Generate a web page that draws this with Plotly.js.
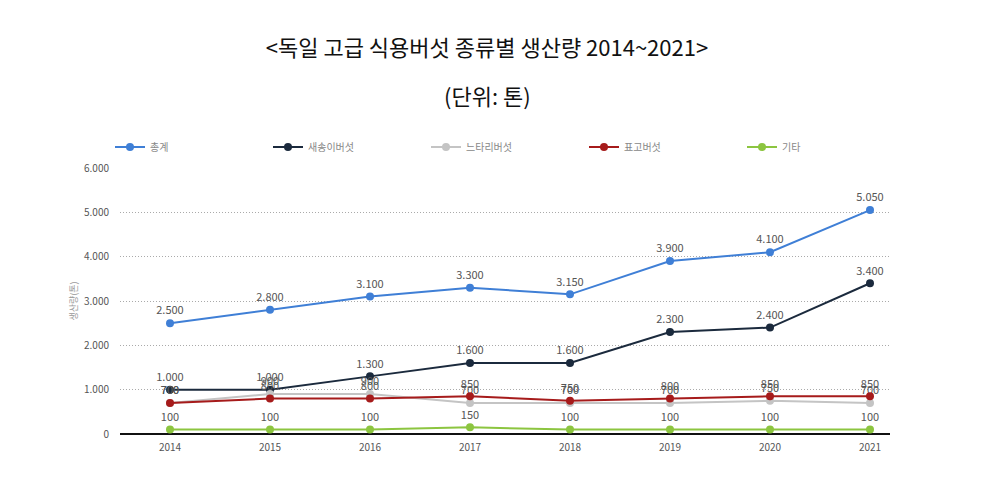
<!DOCTYPE html>
<html><head><meta charset="utf-8">
<script src="https://cdn.plot.ly/plotly-3.0.1.min.js"></script>
<style>body{margin:0;background:#fff}#c{width:993px;height:504px}</style>
</head><body><div id="c"></div>
<script>
const years = [2014, 2015, 2016, 2017, 2018, 2019, 2020, 2021];
const seriesNames = ['총계', '새송이버섯', '느타리버섯', '표고버섯', '기타'];
const total = [2500, 2800, 3100, 3300, 3150, 3900, 4100, 5050];
const kingOyster = [1000, 1000, 1300, 1600, 1600, 2300, 2400, 3400];
const oyster = [700, 900, 900, 700, 700, 700, 750, 700];
const shiitake = [700, 800, 800, 850, 750, 800, 850, 850];
const others = [100, 100, 100, 150, 100, 100, 100, 100];
const yTicks = [0, 1000, 2000, 3000, 4000, 5000, 6000];

const colors = ['#3f7fd6', '#1b2a3d', '#c4c4c4', '#a61b1b', '#8cc540'];
const data = [total, kingOyster, oyster, shiitake, others];
const font = 'Noto Sans CJK KR, Noto Sans, sans-serif';

const traces = data.map((vals, i) => ({
  type: 'scatter', mode: 'lines+markers+text',
  x: years, y: vals, name: seriesNames[i],
  line: {color: colors[i], width: 2},
  marker: {color: colors[i], size: 8},
  texttemplate: '%{y:,}', textposition: 'top center',
  textfont: {size: 11, color: '#555555', family: font},
  hoverinfo: 'skip', cliponaxis: false
}));

const layout = {
  width: 993, height: 504,
  margin: {l: 120, r: 103, t: 168, b: 70},
  separators: ',.',
  paper_bgcolor: '#fff', plot_bgcolor: '#fff',
  font: {family: font, color: '#555'},
  title: {text: '&lt;독일 고급 식용버섯 종류별 생산량 2014~2021&gt;', x: 487/993, xanchor: 'center',
          y: 1 - 48/504, yanchor: 'middle', font: {size: 22, color: '#111', family: font}},
  annotations: [{text: '(단위: 톤)', xref: 'paper', yref: 'paper', x: (487-120)/770, y: (434-95)/266,
    xanchor: 'center', yanchor: 'middle', showarrow: false, font: {size: 22, color: '#111', family: font}}],
  showlegend: true,
  legend: {orientation: 'h', x: -10/770, xanchor: 'left', y: (434-147)/266, yanchor: 'middle',
    entrywidth: 113, entrywidthmode: 'pixels', itemwidth: 30,
    font: {size: 10, color: '#888', family: font}},
  xaxis: {range: [2013.5, 2021.2], tickvals: years, ticktext: years.map(String),
    showgrid: false, zeroline: false, showline: false, ticks: '', ticklabelstandoff: 6,
    tickfont: {size: 10, color: '#555'}},
  yaxis: {range: [0, 6000], tickvals: yTicks, tickformat: ',', showgrid: true,
    gridcolor: '#aaa', griddash: '1px,2px', gridwidth: 1,
    zeroline: true, zerolinecolor: '#111', zerolinewidth: 2.5,
    showline: false, ticks: '', ticklabelstandoff: 10,
    tickfont: {size: 10, color: '#555'},
    title: {text: '생산량(톤)', standoff: 4, font: {size: 9, color: '#999'}}}
};
Plotly.newPlot('c', traces, layout, {displayModeBar: false, staticPlot: true});
</script></body></html>
